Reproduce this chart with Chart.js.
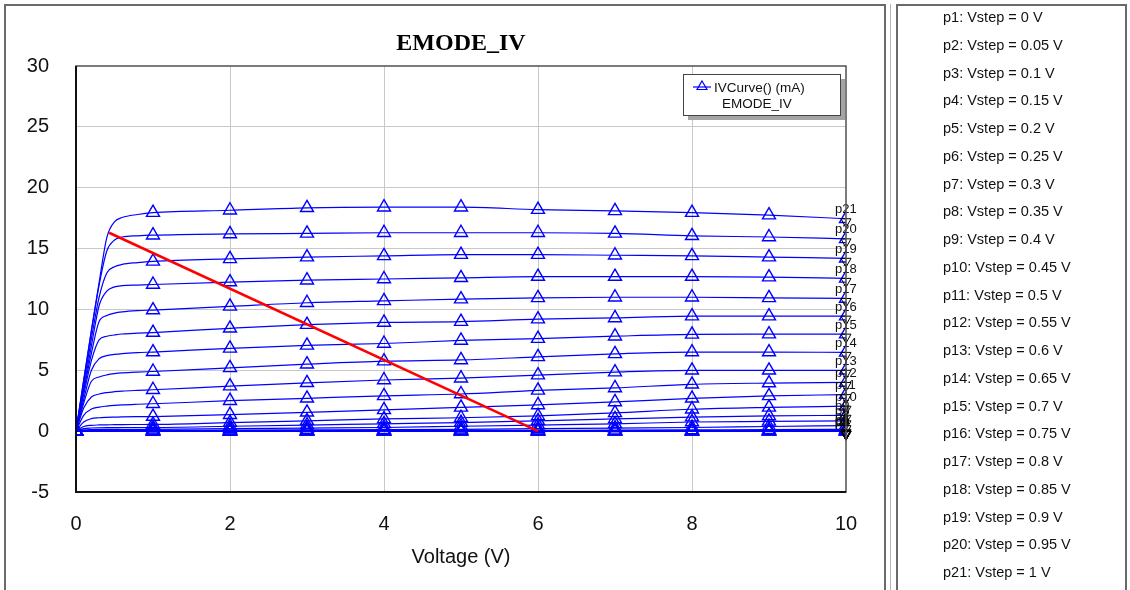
<!DOCTYPE html>
<html>
<head>
<meta charset="utf-8">
<script src="https://cdn.jsdelivr.net/npm/chart.js@4/dist/chart.umd.min.js"></script>
<style>
  html, body { margin: 0; padding: 0; background: #fff; width: 1130px; height: 590px; overflow: hidden;
               font-family: "Liberation Sans", Arial, sans-serif; }
  #chartBox { position: absolute; left: 0; top: 0; width: 886px; height: 590px; }
  #plotPanel { position: absolute; left: 4px; top: 4px; width: 882px; height: 620px;
               border: 2px solid #6a6a6a; box-sizing: border-box; }
  #gap { position: absolute; left: 890px; top: 4px; width: 1px; height: 620px; background: #b4b4b4; }
  #sweepPanel { position: absolute; left: 896px; top: 4px; width: 231px; height: 620px;
                border: 2px solid #6a6a6a; box-sizing: border-box; }
  #sweepList { position: absolute; left: 943px; top: 4px; margin: 0; padding: 0; list-style: none;
               font-size: 14.5px; line-height: 27.75px; color: #111; white-space: nowrap; }
</style>
</head>
<body>
<div id="chartBox"><canvas id="iv" width="886" height="590"></canvas></div>
<div id="plotPanel"></div>
<div id="gap"></div>
<div id="sweepPanel"></div>
<ul id="sweepList"></ul>
<script>
// Drain voltage sweep points (V)
const vds = [0, 0.1, 0.2, 0.3, 0.4, 0.5, 0.6, 0.8, 1, 2, 3, 4, 5, 6, 7, 8, 9, 10];

// Drain current (mA) for each gate step
const p1  = [0, 0, 0, 0, 0, 0, 0, 0, 0, 0, 0, 0, 0, 0, 0, 0, 0, 0];
const p2  = [0, 0, 0, 0, 0, 0, 0, 0, 0, 0, 0, 0, 0, 0, 0, 0, 0, 0];
const p3  = [0, 0, 0, 0, 0, 0, 0, 0, 0, 0, 0, 0, 0, 0, 0, 0, 0, 0.005];
const p4  = [0, 0.001, 0.002, 0.002, 0.002, 0.002, 0.002, 0.002, 0.002, 0.003, 0.003, 0.004, 0.004, 0.005, 0.006, 0.007, 0.008, 0.01];
const p5  = [0, 0.005, 0.01, 0.01, 0.01, 0.01, 0.01, 0.01, 0.01, 0.012, 0.014, 0.016, 0.018, 0.02, 0.022, 0.025, 0.028, 0.03];
const p6  = [0, 0.015, 0.02, 0.02, 0.02, 0.02, 0.02, 0.02, 0.02, 0.03, 0.04, 0.05, 0.06, 0.07, 0.08, 0.1, 0.12, 0.15];
const p7  = [0, 0.04, 0.05, 0.055, 0.06, 0.06, 0.06, 0.06, 0.06, 0.08, 0.1, 0.12, 0.15, 0.2, 0.25, 0.3, 0.38, 0.45];
const p8  = [0, 0.1, 0.13, 0.14, 0.15, 0.15, 0.15, 0.15, 0.15, 0.2, 0.25, 0.3, 0.4, 0.5, 0.6, 0.75, 0.8, 0.85];
const p9  = [0, 0.2, 0.26, 0.28, 0.29, 0.29, 0.3, 0.3, 0.3, 0.4, 0.5, 0.6, 0.7, 0.85, 1.0, 1.15, 1.25, 1.3];
const p10 = [0, 0.38, 0.48, 0.51, 0.52, 0.53, 0.54, 0.545, 0.55, 0.7, 0.85, 1.0, 1.1, 1.25, 1.5, 1.8, 1.95, 2.05];
const p11 = [0, 0.75, 1.03, 1.1, 1.13, 1.15, 1.17, 1.19, 1.2, 1.35, 1.55, 1.75, 1.95, 2.15, 2.4, 2.7, 2.9, 3.0];
const p12 = [0, 1.3, 1.82, 1.98, 2.06, 2.12, 2.16, 2.21, 2.25, 2.5, 2.7, 2.9, 3.05, 3.35, 3.55, 3.85, 3.95, 4.0];
const p13 = [0, 1.9, 2.8, 3.05, 3.17, 3.24, 3.29, 3.35, 3.4, 3.7, 3.97, 4.2, 4.35, 4.6, 4.85, 5.0, 5.0, 5.0];
const p14 = [0, 2.3, 4.1, 4.45, 4.62, 4.72, 4.78, 4.85, 4.9, 5.2, 5.5, 5.75, 5.85, 6.1, 6.35, 6.5, 6.5, 6.47];
const p15 = [0, 2.6, 5.0, 5.95, 6.2, 6.3, 6.37, 6.45, 6.5, 6.8, 7.05, 7.2, 7.45, 7.6, 7.8, 7.95, 7.97, 7.97];
const p16 = [0, 3.0, 5.8, 7.5, 7.8, 7.9, 7.98, 8.05, 8.1, 8.45, 8.75, 8.93, 9.0, 9.2, 9.3, 9.45, 9.45, 9.45];
const p17 = [0, 3.3, 6.4, 9.0, 9.5, 9.7, 9.8, 9.9, 9.95, 10.25, 10.55, 10.7, 10.85, 10.95, 11.0, 11.0, 10.95, 10.9];
const p18 = [0, 3.6, 7.0, 10.3, 11.5, 11.85, 11.95, 12.0, 12.05, 12.25, 12.4, 12.5, 12.6, 12.7, 12.7, 12.7, 12.65, 12.55];
const p19 = [0, 3.9, 7.6, 11.0, 13.0, 13.5, 13.7, 13.85, 13.95, 14.15, 14.3, 14.4, 14.5, 14.5, 14.45, 14.4, 14.3, 14.2];
const p20 = [0, 4.2, 8.2, 12.0, 14.8, 15.7, 15.95, 16.05, 16.1, 16.2, 16.25, 16.3, 16.3, 16.3, 16.25, 16.05, 15.95, 15.8];
const p21 = [0, 4.2, 8.3, 12.2, 15.9, 17.2, 17.55, 17.8, 17.95, 18.15, 18.35, 18.4, 18.4, 18.2, 18.1, 17.95, 17.75, 17.45];

// Gate step voltages (V) and their sweep names
const vstep = [0, 0.05, 0.1, 0.15, 0.2, 0.25, 0.3, 0.35, 0.4, 0.45, 0.5,
               0.55, 0.6, 0.65, 0.7, 0.75, 0.8, 0.85, 0.9, 0.95, 1];
const sweepNames = vstep.map((v, i) => 'p' + (i + 1));

// Load line end points
const loadV = [0.43, 6];
const loadI = [16.3, 0];

// Axis ticks
const xTicks = [0, 2, 4, 6, 8, 10];
const yTicks = [-5, 0, 5, 10, 15, 20, 25, 30];

const curves = [p1, p2, p3, p4, p5, p6, p7, p8, p9, p10, p11, p12, p13, p14,
                p15, p16, p17, p18, p19, p20, p21];

// Sweep list on the right
const list = document.getElementById('sweepList');
vstep.forEach((v, i) => {
  const li = document.createElement('li');
  li.textContent = sweepNames[i] + ': Vstep = ' + v + ' V';
  list.appendChild(li);
});

const BLUE = '#0000ff';
const TICK_FONT = { family: '"Liberation Sans", Arial, sans-serif', size: 20 };

const curveSets = curves.map((ys, i) => ({
  label: sweepNames[i],
  data: vds.map((v, k) => ({ x: v, y: ys[k] })),
  order: 1,
  borderColor: BLUE,
  borderWidth: 1.2,
  backgroundColor: 'rgba(0,0,0,0)',
  fill: false,
  cubicInterpolationMode: 'monotone',
  pointStyle: 'triangle',
  pointRadius: c => (c.raw && Number.isInteger(c.raw.x)) ? 7.5 : 0,
  pointBorderColor: BLUE,
  pointBorderWidth: 1.4,
  pointBackgroundColor: 'rgba(0,0,0,0)'
}));

const loadSet = {
  label: 'load',
  data: loadV.map((v, k) => ({ x: v, y: loadI[k] })),
  order: 0,
  borderColor: '#ff0000',
  borderWidth: 2.5,
  pointRadius: 0,
  fill: false
};

function isEdge(scale, value) {
  return value === scale.min || value === scale.max;
}

// Frame, title, legend box and sweep end labels
const decorations = {
  id: 'decorations',
  afterDatasetsDraw(chart) {
    const { ctx, chartArea: a, scales } = chart;
    const xs = scales.x, ys = scales.y;
    ctx.save();

    // sweep end markers and names
    ctx.font = '13px "Liberation Sans", Arial, sans-serif';
    ctx.textBaseline = 'middle';
    ctx.textAlign = 'left';
    curves.forEach((c, i) => {
      const px = xs.getPixelForValue(vds[vds.length - 1]);
      const py = ys.getPixelForValue(c[c.length - 1]);
      ctx.strokeStyle = '#000';
      ctx.lineWidth = 1;
      ctx.beginPath();
      ctx.moveTo(px - 5, py);
      ctx.lineTo(px + 5, py);
      ctx.lineTo(px, py + 9);
      ctx.closePath();
      ctx.stroke();
      ctx.fillStyle = '#111';
      ctx.fillText(sweepNames[i], px - 11, py - 9);
    });

    // plot frame
    ctx.strokeStyle = '#505050';
    ctx.lineWidth = 1.5;
    ctx.strokeRect(a.left, a.top, a.right - a.left, a.bottom - a.top);
    ctx.strokeStyle = '#111';
    ctx.lineWidth = 2;
    ctx.beginPath();
    ctx.moveTo(a.left, a.top);
    ctx.lineTo(a.left, a.bottom);
    ctx.lineTo(a.right, a.bottom);
    ctx.stroke();

    // title
    ctx.fillStyle = '#000';
    ctx.font = 'bold 24px "Liberation Serif", "Times New Roman", serif';
    ctx.textAlign = 'center';
    ctx.textBaseline = 'middle';
    ctx.fillText('EMODE_IV', (a.left + a.right) / 2, a.top - 22);

    // legend box
    const bw = 157, bh = 41;
    const bx = a.right - 163, by = a.top + 8;
    ctx.fillStyle = '#a4a4a4';
    ctx.fillRect(bx + 5, by + 5, bw, bh);
    ctx.fillStyle = '#fff';
    ctx.fillRect(bx, by, bw, bh);
    ctx.strokeStyle = '#444';
    ctx.lineWidth = 1;
    ctx.strokeRect(bx + 0.5, by + 0.5, bw, bh);

    const ly = by + 13;
    ctx.strokeStyle = BLUE;
    ctx.lineWidth = 1.2;
    ctx.beginPath();
    ctx.moveTo(bx + 10, ly);
    ctx.lineTo(bx + 28, ly);
    ctx.stroke();
    ctx.beginPath();
    ctx.moveTo(bx + 19, ly - 6);
    ctx.lineTo(bx + 24, ly + 2.5);
    ctx.lineTo(bx + 14, ly + 2.5);
    ctx.closePath();
    ctx.stroke();

    ctx.fillStyle = '#111';
    ctx.font = '13.5px "Liberation Sans", Arial, sans-serif';
    ctx.textAlign = 'left';
    ctx.fillText('IVCurve() (mA)', bx + 31, ly + 1);
    ctx.fillText('EMODE_IV', bx + 39, ly + 17);

    ctx.restore();
  }
};

new Chart(document.getElementById('iv'), {
  type: 'line',
  data: { datasets: [loadSet, ...curveSets] },
  options: {
    responsive: false,
    animation: false,
    events: [],
    layout: { padding: { left: 0, top: 66, right: 40, bottom: 0 } },
    plugins: {
      legend: { display: false },
      title: { display: false },
      tooltip: { enabled: false }
    },
    scales: {
      x: {
        type: 'linear',
        min: xTicks[0],
        max: xTicks[xTicks.length - 1],
        afterBuildTicks: s => { s.ticks = xTicks.map(v => ({ value: v })); },
        afterFit: s => { s.height = 98; },
        ticks: { color: '#111', font: TICK_FONT, padding: 20, maxRotation: 0 },
        grid: {
          drawTicks: false,
          color: c => (c.tick && isEdge(c.scale, c.tick.value)) ? 'rgba(0,0,0,0)' : '#c8c8c8',
          lineWidth: 1
        },
        border: { display: false },
        title: {
          display: true,
          text: 'Voltage (V)',
          color: '#111',
          font: TICK_FONT,
          padding: { top: 0, bottom: 21 }
        }
      },
      y: {
        type: 'linear',
        min: yTicks[0],
        max: yTicks[yTicks.length - 1],
        afterBuildTicks: s => { s.ticks = yTicks.map(v => ({ value: v })); },
        afterFit: s => { s.width = 76; },
        ticks: { color: '#111', font: TICK_FONT, padding: 27 },
        grid: {
          drawTicks: false,
          color: c => (c.tick && isEdge(c.scale, c.tick.value)) ? 'rgba(0,0,0,0)' : '#c8c8c8',
          lineWidth: 1
        },
        border: { display: false }
      }
    }
  },
  plugins: [decorations]
});
</script>
</body>
</html>
